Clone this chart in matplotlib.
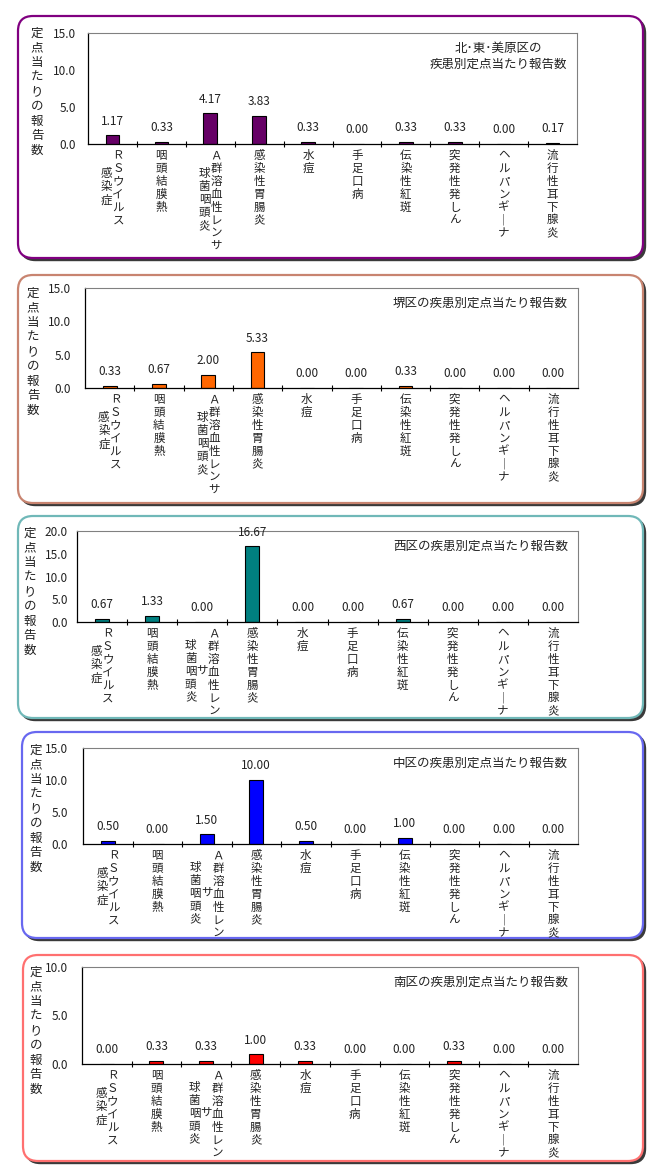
import matplotlib
matplotlib.use("Agg")
import matplotlib.pyplot as plt
from matplotlib.patches import FancyBboxPatch
from matplotlib.transforms import offset_copy
import numpy as np

plt.rcParams['font.family'] = ['Noto Sans CJK JP', 'DejaVu Sans']

# 疾患名 (縦書き)
categories = ["ＲＳウイルス感染症", "咽頭結膜熱", "Ａ群溶血性レンサ球菌咽頭炎", "感染性胃腸炎", "水痘",
              "手足口病", "伝染性紅斑", "突発性発しん", "ヘルパンギーナ", "流行性耳下腺炎"]
# 縦書きの列 (右の列から順に)
label_cols_wide = [["ＲＳウイルス", "感染症"], ["咽頭結膜熱"], ["Ａ群溶血性レンサ", "球菌咽頭炎"],
                   ["感染性胃腸炎"], ["水痘"], ["手足口病"], ["伝染性紅斑"], ["突発性発しん"],
                   ["ヘルパンギーナ"], ["流行性耳下腺炎"]]
label_cols_narrow = [["ＲＳウイルス", "感染症"], ["咽頭結膜熱"], ["Ａ群溶血性レン", "サ", "球菌咽頭炎"],
                     ["感染性胃腸炎"], ["水痘"], ["手足口病"], ["伝染性紅斑"], ["突発性発しん"],
                     ["ヘルパンギーナ"], ["流行性耳下腺炎"]]

kita_higashi_mihara = [1.17, 0.33, 4.17, 3.83, 0.33, 0.00, 0.33, 0.33, 0.00, 0.17]
sakai = [0.33, 0.67, 2.00, 5.33, 0.00, 0.00, 0.33, 0.00, 0.00, 0.00]
nishi = [0.67, 1.33, 0.00, 16.67, 0.00, 0.00, 0.67, 0.00, 0.00, 0.00]
naka = [0.50, 0.00, 1.50, 10.00, 0.50, 0.00, 1.00, 0.00, 0.00, 0.00]
minami = [0.00, 0.33, 0.33, 1.00, 0.33, 0.00, 0.00, 0.33, 0.00, 0.00]

titles = ["北･東･美原区の\n疾患別定点当たり報告数", "堺区の疾患別定点当たり報告数",
          "西区の疾患別定点当たり報告数", "中区の疾患別定点当たり報告数",
          "南区の疾患別定点当たり報告数"]
y_max = [15, 15, 20, 15, 10]
ylabel = "定点当たりの報告数"

W, H = 660, 1169

# レイアウト (ピクセル)
panels = [
    dict(data=kita_higashi_mihara, box=(18, 16, 643, 258), border='#800080', bar='#660066',
         axes=(88, 33, 577, 144), ylab=(-51, 6), pad=12, cols=label_cols_wide),
    dict(data=sakai, box=(18, 275, 643, 503), border='#c88470', bar='#ff6600',
         axes=(85, 288, 578, 388), ylab=(-52, 1), pad=14, cols=label_cols_wide),
    dict(data=nishi, box=(18, 516, 643, 718), border='#70b8b8', bar='#008080',
         axes=(77, 531, 578, 622), ylab=(-47, 4), pad=9, cols=label_cols_narrow),
    dict(data=naka, box=(22, 732, 643, 938), border='#6868f0', bar='#0000ff',
         axes=(83, 748, 578, 844), ylab=(-47, 4), pad=15, cols=label_cols_narrow),
    dict(data=minami, box=(23, 955, 643, 1161), border='#ff7070', bar='#ff0000',
         axes=(82, 967, 578, 1064), ylab=(-46, 1), pad=14, cols=label_cols_narrow),
]

fig = plt.figure(figsize=(W / 100, H / 100), dpi=100)
bg = fig.add_axes([0, 0, 1, 1], zorder=0)
bg.set_xlim(0, W)
bg.set_ylim(H, 0)
bg.axis('off')


def px_rect(l, t, r, b):
    return [l / W, 1 - b / H, (r - l) / W, (b - t) / H]


def tate(s):
    # 縦書き用に一文字ずつ改行
    return "\n".join(s.replace("ー", "｜"))


CAT_SIZE = 8.3
STEP = 12.3  # 縦書き一文字の高さ(px)
CAT_LS = STEP / (CAT_SIZE * 100 / 72 * 1.08)
COL_GAP = 11.5

for i, p in enumerate(panels):
    l, t, r, b = p['box']
    style = "round,pad=0,rounding_size=15"
    bg.add_patch(FancyBboxPatch((l + 2.5, t + 2.5), r - l, b - t, boxstyle=style,
                                fc='#3a3a3a', ec='#3a3a3a', lw=1))
    bg.add_patch(FancyBboxPatch((l, t), r - l, b - t, boxstyle=style,
                                fc='white', ec=p['border'], lw=1.6))

    ax = fig.add_axes(px_rect(*p['axes']), zorder=2)
    ax.patch.set_alpha(0)
    vals = p['data']
    x = np.arange(len(vals))
    ax.bar(x, vals, width=0.28, color=p['bar'], edgecolor='black', linewidth=0.8)
    ax.set_xlim(-0.5, len(vals) - 0.5)
    ax.set_ylim(0, y_max[i])
    yt = np.arange(0, y_max[i] + 1, 5)
    ax.set_yticks(yt)
    ax.set_yticklabels([f"{v:.1f}" for v in yt])
    ax.tick_params(axis='y', length=0, pad=p['pad'] / 1.39, labelsize=8.5, labelcolor='#222222')
    ax.set_xticks(x)
    ax.set_xticklabels([])
    ax.tick_params(axis='x', which='major', length=0)
    ax.set_xticks(np.arange(0.5, len(vals) - 1, 1), minor=True)
    ax.tick_params(axis='x', which='minor', length=4, width=0.8, direction='inout')
    for s in ['top', 'right']:
        ax.spines[s].set_color('#808080')
        ax.spines[s].set_linewidth(0.8)
    for s in ['left', 'bottom']:
        ax.spines[s].set_color('black')
        ax.spines[s].set_linewidth(0.9)

    for xi, v in zip(x, vals):
        ax.annotate(f"{v:.2f}", (xi, v), xytext=(0, 5.5), textcoords='offset points',
                    ha='center', va='bottom', fontsize=8.5, color='#222222')

    # 疾患名
    for xi, cols in zip(x, p['cols']):
        n = len(cols)
        maxlen = max(len(c) for c in cols)
        for k, c in enumerate(cols):
            dx = (n - 1) / 2 * COL_GAP - k * COL_GAP
            dy = -(5 + (maxlen - len(c)) / 2 * STEP)
            tr = offset_copy(ax.get_xaxis_transform(), fig=fig, x=dx, y=dy, units='dots')
            ax.text(xi, 0, tate(c), transform=tr, ha='center', va='top',
                    fontsize=CAT_SIZE, linespacing=CAT_LS, color='#222222')

    # 縦軸ラベル
    tr = offset_copy(ax.transAxes, fig=fig, x=p['ylab'][0], y=p['ylab'][1], units='dots')
    ax.text(0, 1, tate(ylabel), transform=tr, ha='center', va='top',
            fontsize=9, linespacing=1.16, color='#222222')

    # タイトル
    tr = offset_copy(ax.transAxes, fig=fig, x=-10, y=-9, units='dots')
    ax.text(1, 1, titles[i], transform=tr, ha='right', va='top', multialignment='center',
            fontsize=9, linespacing=1.3, color='#222222')

fig.savefig("out.png", dpi=100)
